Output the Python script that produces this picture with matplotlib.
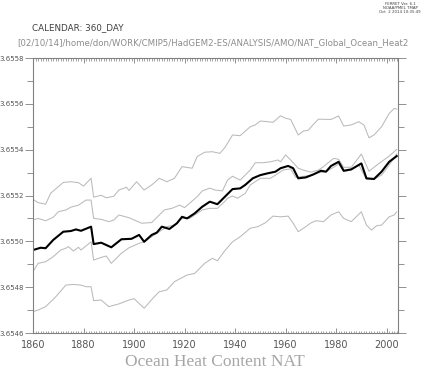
import matplotlib
matplotlib.use('Agg')
import matplotlib.pyplot as plt
from matplotlib.ticker import MultipleLocator, FormatStrFormatter

# ensemble mean
years_mean = [1860, 1863, 1865, 1868, 1872, 1875, 1877, 1879, 1883, 1884,
              1887, 1891, 1895, 1899, 1902, 1904, 1907, 1909, 1911, 1914,
              1917, 1919, 1921, 1924, 1927, 1930, 1933, 1936, 1939, 1942,
              1944, 1947, 1950, 1953, 1956, 1958, 1961, 1963, 1965, 1968,
              1971, 1974, 1976, 1978, 1981, 1983, 1986, 1990, 1992, 1995,
              1998, 2001, 2004]
heat_mean = [3.654962, 3.654972, 3.654970, 3.655006, 3.655042, 3.655045, 3.655052, 3.655046, 3.655064, 3.654988,
             3.654994, 3.654974, 3.655009, 3.655011, 3.655028, 3.654998, 3.655028, 3.655038, 3.655064, 3.655054,
             3.655079, 3.655107, 3.655100, 3.655122, 3.655151, 3.655173, 3.655162, 3.655195, 3.655228, 3.655231,
             3.655246, 3.655275, 3.655289, 3.655297, 3.655304, 3.655319, 3.655329, 3.655319, 3.655275, 3.655279,
             3.655292, 3.655308, 3.655304, 3.655329, 3.655347, 3.655308, 3.655314, 3.655340, 3.655275, 3.655272,
             3.655304, 3.655347, 3.655372]

# outer envelope (top)
years_upper = [1860, 1862, 1865, 1867, 1872, 1875, 1878, 1880, 1883, 1884,
               1887, 1889, 1892, 1894, 1897, 1898, 1901, 1904, 1907, 1910,
               1913, 1916, 1919, 1923, 1925, 1928, 1931, 1934, 1936, 1939,
               1942, 1946, 1948, 1950, 1953, 1955, 1958, 1960, 1962, 1965,
               1967, 1969, 1971, 1973, 1978, 1981, 1983, 1986, 1989, 1991,
               1993, 1995, 1998, 2001, 2003, 2004]
heat_upper = [3.655183, 3.655169, 3.655162, 3.655210, 3.655257, 3.655260, 3.655256, 3.655241, 3.655275, 3.655193,
              3.655201, 3.655190, 3.655197, 3.655224, 3.655236, 3.655222, 3.655260, 3.655224, 3.655246, 3.655275,
              3.655260, 3.655275, 3.655326, 3.655319, 3.655370, 3.655389, 3.655391, 3.655384, 3.655410, 3.655464,
              3.655461, 3.655500, 3.655508, 3.655525, 3.655522, 3.655519, 3.655548, 3.655537, 3.655532, 3.655464,
              3.655481, 3.655485, 3.655510, 3.655533, 3.655532, 3.655547, 3.655503, 3.655508, 3.655522, 3.655508,
              3.655452, 3.655464, 3.655500, 3.655558, 3.655580, 3.655577]

# inner envelope (above mean)
years_hi = [1860, 1862, 1865, 1868, 1870, 1873, 1875, 1878, 1881, 1883,
            1884, 1887, 1890, 1892, 1894, 1898, 1903, 1907, 1910, 1912,
            1915, 1918, 1920, 1922, 1925, 1927, 1930, 1932, 1935, 1937,
            1939, 1942, 1946, 1948, 1951, 1954, 1957, 1958, 1960, 1962,
            1965, 1967, 1970, 1973, 1975, 1979, 1981, 1983, 1986, 1990,
            1993, 1997, 2001, 2004]
heat_hi = [3.655093, 3.655100, 3.655090, 3.655105, 3.655129, 3.655137, 3.655149, 3.655158, 3.655180, 3.655180,
           3.655100, 3.655096, 3.655086, 3.655093, 3.655115, 3.655103, 3.655079, 3.655082, 3.655115, 3.655137,
           3.655144, 3.655158, 3.655147, 3.655166, 3.655195, 3.655220, 3.655232, 3.655224, 3.655220, 3.655267,
           3.655284, 3.655267, 3.655311, 3.655343, 3.655343, 3.655347, 3.655355, 3.655347, 3.655377, 3.655355,
           3.655319, 3.655311, 3.655302, 3.655311, 3.655326, 3.655362, 3.655358, 3.655323, 3.655323, 3.655381,
           3.655306, 3.655340, 3.655372, 3.655401]

# inner envelope (below mean)
years_lo = [1860, 1862, 1865, 1868, 1871, 1873, 1874, 1876, 1878, 1879,
            1883, 1884, 1887, 1889, 1891, 1895, 1898, 1902, 1904, 1907,
            1911, 1913, 1916, 1919, 1922, 1925, 1927, 1930, 1933, 1936,
            1937, 1939, 1941, 1944, 1946, 1950, 1954, 1956, 1959, 1962,
            1964, 1968, 1970, 1973, 1976, 1979, 1981, 1983, 1986, 1989,
            1992, 1995, 1998, 2001, 2004]
heat_lo = [3.654867, 3.654904, 3.654911, 3.654933, 3.654962, 3.654970, 3.654977, 3.654958, 3.654974, 3.654962,
           3.654998, 3.654918, 3.654930, 3.654936, 3.654904, 3.654948, 3.654972, 3.654991, 3.654998, 3.655020,
           3.655049, 3.655064, 3.655071, 3.655100, 3.655100, 3.655122, 3.655137, 3.655144, 3.655144, 3.655175,
           3.655188, 3.655198, 3.655188, 3.655209, 3.655246, 3.655275, 3.655275, 3.655289, 3.655311, 3.655316,
           3.655279, 3.655285, 3.655288, 3.655299, 3.655304, 3.655323, 3.655337, 3.655304, 3.655311, 3.655333,
           3.655271, 3.655271, 3.655289, 3.655333, 3.655381]

# outer envelope (bottom)
years_lower = [1860, 1862, 1865, 1869, 1873, 1876, 1879, 1881, 1883, 1884,
               1887, 1890, 1894, 1898, 1900, 1904, 1908, 1910, 1913, 1916,
               1921, 1924, 1928, 1931, 1933, 1936, 1939, 1942, 1946, 1949,
               1952, 1955, 1958, 1961, 1963, 1965, 1968, 1970, 1972, 1975,
               1978, 1981, 1983, 1986, 1990, 1992, 1994, 1996, 1998, 2001,
               2003, 2004]
heat_lower = [3.654693, 3.654700, 3.654715, 3.654758, 3.654809, 3.654812, 3.654809, 3.654802, 3.654802, 3.654741,
              3.654744, 3.654715, 3.654727, 3.654744, 3.654750, 3.654708, 3.654758, 3.654780, 3.654788, 3.654824,
              3.654853, 3.654860, 3.654904, 3.654926, 3.654915, 3.654960, 3.654998, 3.655020, 3.655057, 3.655064,
              3.655081, 3.655110, 3.655107, 3.655110, 3.655079, 3.655042, 3.655064, 3.655080, 3.655090, 3.655086,
              3.655115, 3.655129, 3.655100, 3.655086, 3.655129, 3.655071, 3.655049, 3.655068, 3.655071, 3.655107,
              3.655115, 3.655129]

fig = plt.figure(figsize=(4.22, 3.74), dpi=100)
ax = fig.add_axes([33 / 422, 41 / 374, 365 / 422, 275 / 374])

grey = '#bababa'
ax.plot(years_upper, heat_upper, color=grey, lw=0.75)
ax.plot(years_hi, heat_hi, color=grey, lw=0.75)
ax.plot(years_lo, heat_lo, color=grey, lw=0.75)
ax.plot(years_lower, heat_lower, color=grey, lw=0.75)
ax.plot(years_mean, heat_mean, color='black', lw=1.5)

ax.set_xlim(1860, 2004.5)
ax.set_ylim(3.6546, 3.6558)

axcol = '#808080'
for s in ax.spines.values():
    s.set_color(axcol)
    s.set_linewidth(0.8)

ax.xaxis.set_major_locator(MultipleLocator(20))
ax.xaxis.set_minor_locator(MultipleLocator(1))
ax.yaxis.set_major_locator(MultipleLocator(0.0002))
ax.yaxis.set_minor_locator(MultipleLocator(0.0001))
ax.yaxis.set_major_formatter(FormatStrFormatter('%.4f'))

ax.tick_params(axis='x', which='major', direction='in', top=True, bottom=True,
               length=3.5, width=0.6, color=axcol, labelsize=7, labelcolor='#555555', pad=5)
ax.tick_params(axis='x', which='minor', direction='in', top=True, bottom=True,
               length=1.8, width=0.5, color=axcol)
ax.tick_params(axis='y', which='major', direction='out', left=True, right=True,
               length=5.5, width=0.6, color=axcol, labelsize=5, labelcolor='#555555', pad=1)
ax.tick_params(axis='y', which='minor', direction='out', left=True, right=True,
               length=4, width=0.6, color=axcol)

fig.text(32 / 422, 1 - 28 / 374, 'CALENDAR: 360_DAY', fontsize=6.3,
         color='#404040', ha='left', va='center')
fig.text(17 / 422, 1 - 43 / 374,
         '[02/10/14]/home/don/WORK/CMIP5/HadGEM2-ES/ANALYSIS/AMO/NAT_Global_Ocean_Heat2',
         fontsize=6.2, color='#8c8c8c', ha='left', va='center')
fig.text(400 / 422, 1 - 8 / 374, 'FERRET Ver. 6.1\nNOAA/PMEL TMAP\nOct  2 2014 10:35:49',
         fontsize=2.8, color='#404040', ha='center', va='center', linespacing=1.1)
fig.text(215 / 422, 1 - 362 / 374, 'Ocean Heat Content NAT', fontsize=12.5,
         family='Liberation Serif', color='#a6a6a6', ha='center', va='center')

fig.savefig('out.png', dpi=100)
